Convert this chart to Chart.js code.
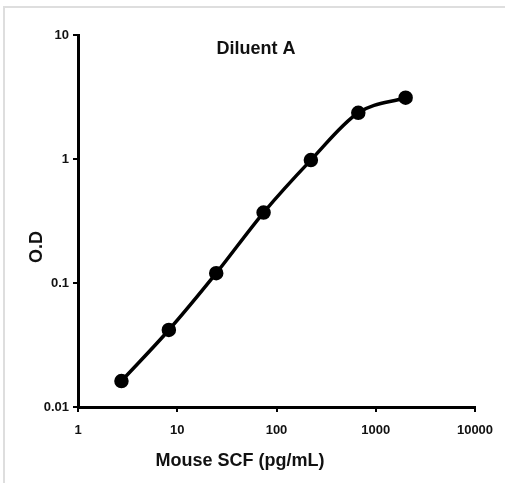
<!DOCTYPE html>
<html>
<head>
<meta charset="utf-8">
<script src="https://cdn.jsdelivr.net/npm/chart.js@4"></script>
<style>
  body { margin: 0; background: #fff; }
  #wrap { position: relative; width: 505px; height: 483px; }
  #frame { position: absolute; left: 3px; top: 6px; right: 0; bottom: 0;
           border-left: 2px solid #dedede; border-top: 2px solid #dedede; }
  canvas { position: absolute; left: 0; top: 0; }
</style>
</head>
<body>
<div id="wrap">
  <div id="frame"></div>
  <canvas id="odChart" width="505" height="483"></canvas>
</div>
<script>
// standard curve, 3-fold dilution
const concentrations = [2.74, 8.23, 24.7, 74.1, 222, 667, 2000];
const odValues = [0.0162, 0.0418, 0.12, 0.37, 0.98, 2.36, 3.12];
const xTicks = [1, 10, 100, 1000, 10000];
const yTicks = [0.01, 0.1, 1, 10];

const boldFont = "'Liberation Sans', Arial, sans-serif";

const points = concentrations.map((c, i) => ({ x: c, y: odValues[i] }));

// titles drawn by hand so they sit where the original has them
const textPlugin = {
    id: 'labels',
    afterDraw(chart) {
        const ctx = chart.ctx;
        ctx.save();
        ctx.fillStyle = '#111';
        ctx.textAlign = 'center';
        ctx.textBaseline = 'middle';

        ctx.font = "bold 18px " + boldFont;
        ctx.fillText('Diluent A', 256, 49);

        ctx.font = "bold 18px " + boldFont;
        ctx.fillText('Mouse SCF (pg/mL)', 240, 461);

        ctx.translate(37, 247);
        ctx.rotate(-Math.PI / 2);
        ctx.font = "bold 18px " + boldFont;
        ctx.fillText('O.D', 0, 0);
        ctx.restore();
    }
};

const ctx = document.getElementById('odChart');

new Chart(ctx, {
    type: 'line',
    data: {
        datasets: [{
            label: 'Diluent A',
            data: points,
            borderColor: '#000',
            backgroundColor: '#000',
            borderWidth: 3.5,
            pointRadius: 5.5,
            pointHoverRadius: 5.5,
            cubicInterpolationMode: 'monotone',
            fill: false
        }]
    },
    options: {
        responsive: false,
        animation: false,
        layout: { padding: { left: 0, top: 35, right: 30, bottom: 0 } },
        plugins: {
            legend: { display: false },
            tooltip: { enabled: false }
        },
        scales: {
            x: {
                type: 'logarithmic',
                min: 1,
                max: 10000,
                afterBuildTicks: scale => { scale.ticks = xTicks.map(v => ({ value: v })); },
                afterFit: scale => { scale.height = 76; },
                border: { display: true, color: '#000', width: 3 },
                grid: { drawOnChartArea: false, color: '#000', lineWidth: 2, tickLength: 5 },
                ticks: {
                    color: '#111',
                    padding: 11,
                    maxRotation: 0,
                    font: { family: boldFont, size: 13, weight: 'bold' },
                    callback: v => String(v)
                }
            },
            y: {
                type: 'logarithmic',
                min: 0.01,
                max: 10,
                afterBuildTicks: scale => { scale.ticks = yTicks.map(v => ({ value: v })); },
                afterFit: scale => { scale.width = 78; },
                border: { display: true, color: '#000', width: 3 },
                grid: { drawOnChartArea: false, color: '#000', lineWidth: 2, tickLength: 5 },
                ticks: {
                    color: '#111',
                    padding: 4,
                    font: { family: boldFont, size: 13, weight: 'bold' },
                    callback: v => String(v)
                }
            }
        }
    },
    plugins: [textPlugin]
});
</script>
</body>
</html>
